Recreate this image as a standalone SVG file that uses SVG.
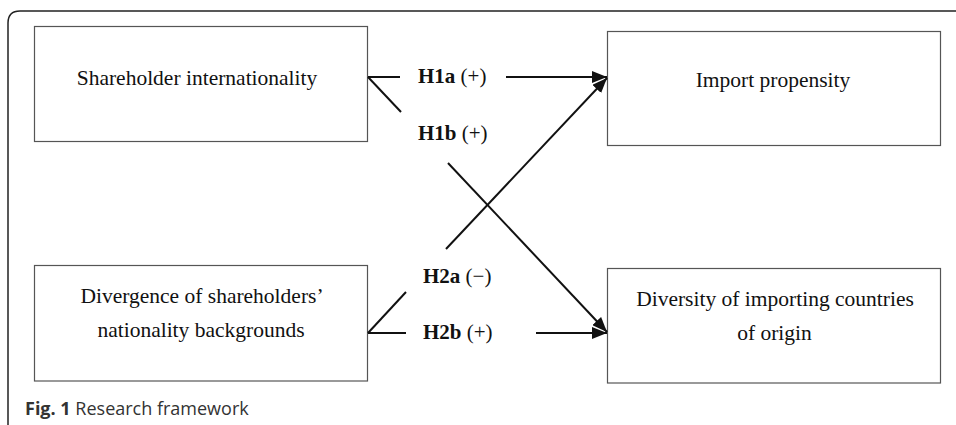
<svg xmlns="http://www.w3.org/2000/svg" width="956" height="425" viewBox="0 0 956 425">
<style>
.box{fill:#fff;stroke:#555;stroke-width:1.2}
.bt{font-family:"Liberation Serif","Times New Roman",serif;font-size:21.5px;fill:#111;text-anchor:middle}
.lb{font-family:"Liberation Serif","Times New Roman",serif;font-size:21px;fill:#111}
.lb .b{font-weight:bold}
.ln{stroke:#111;stroke-width:2;fill:none}
.cap{font-family:"Open Sans","Noto Sans",sans-serif;font-size:18px;fill:#333}
</style>
<defs>
<marker id="ah" markerWidth="16" markerHeight="12" refX="15" refY="6" orient="auto" markerUnits="userSpaceOnUse">
<path d="M0,0 L15,6 L0,12 Z" fill="#111"/>
</marker>
</defs>
<path d="M8,425 V23 Q8,11 20,11 H956" fill="none" stroke="#222" stroke-width="1.5"/>
<g id="n1">
<rect class="box" x="34.5" y="26.5" width="333" height="115"/>
<text class="bt" x="197" y="85">Shareholder internationality</text>
</g>
<g id="n2">
<rect class="box" x="607.5" y="31.5" width="333" height="114"/>
<text class="bt" x="773" y="87">Import propensity</text>
</g>
<g id="n3">
<rect class="box" x="34.5" y="265.5" width="333" height="115.5"/>
<text class="bt" x="202" y="303">Divergence of shareholders’</text>
<text class="bt" x="201" y="337">nationality backgrounds</text>
</g>
<g id="n4">
<rect class="box" x="607.5" y="268.5" width="333" height="114.5"/>
<text class="bt" x="775" y="306">Diversity of importing countries</text>
<text class="bt" x="774.5" y="340">of origin</text>
</g>
<g id="connectors">
<line class="ln" x1="368" y1="77" x2="400" y2="77"/>
<line class="ln" x1="506" y1="77" x2="607" y2="77" marker-end="url(#ah)"/>
<line class="ln" x1="368" y1="77" x2="401" y2="112"/>
<line class="ln" x1="448" y1="163" x2="607" y2="332" marker-end="url(#ah)"/>
<line class="ln" x1="368" y1="333" x2="406" y2="292"/>
<line class="ln" x1="446" y1="249" x2="607" y2="78" marker-end="url(#ah)"/>
<line class="ln" x1="368" y1="333" x2="406" y2="333"/>
<line class="ln" x1="536" y1="333" x2="607" y2="333" marker-end="url(#ah)"/>
<text class="lb" x="418" y="83"><tspan class="b">H1a</tspan> (+)</text>
<text class="lb" x="418" y="140"><tspan class="b">H1b</tspan> (+)</text>
<text class="lb" x="423" y="283"><tspan class="b">H2a</tspan> (−)</text>
<text class="lb" x="423" y="339"><tspan class="b">H2b</tspan> (+)</text>
</g>
<text class="cap" x="25" y="415"><tspan font-weight="bold">Fig. 1</tspan> Research framework</text>
</svg>
